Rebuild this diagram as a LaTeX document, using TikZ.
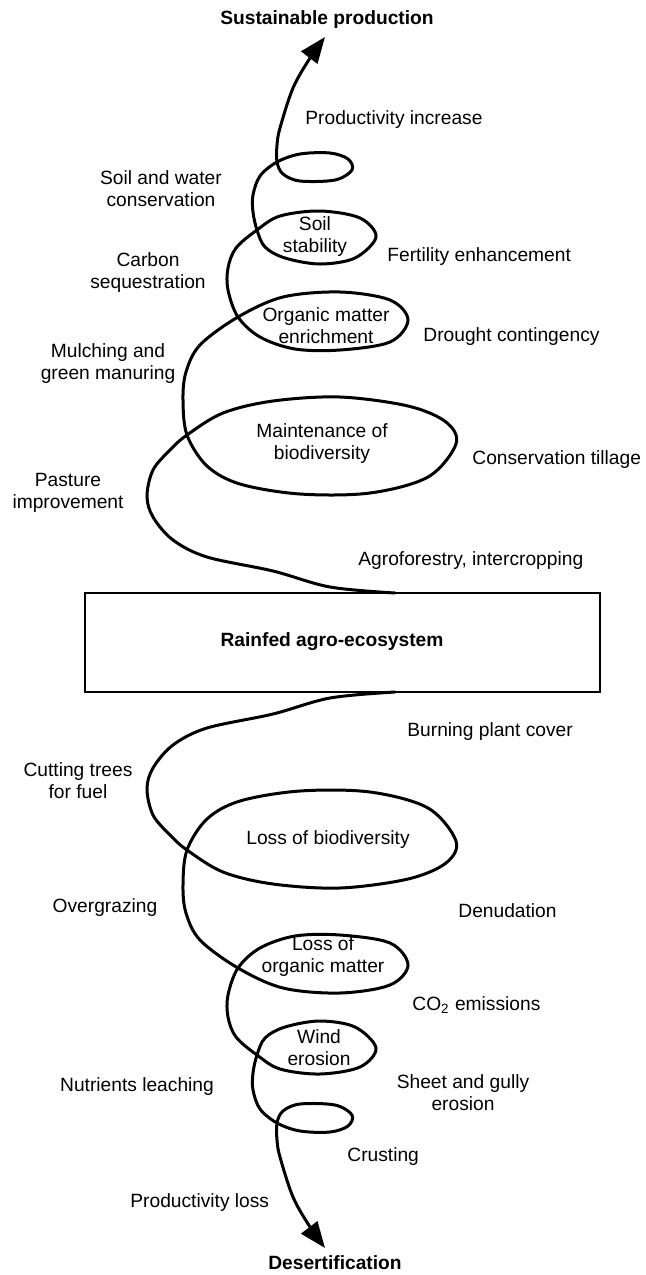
\documentclass[tikz,border=0pt]{standalone}
\usepackage{fontspec}
\setmainfont{Liberation Sans}
\usetikzlibrary{arrows.meta,positioning}

\begin{document}
\begin{tikzpicture}[x=0.5pt, y=-0.5pt,
  lbl/.style={font=\fontsize{9.6}{11}\selectfont, align=center, inner sep=0pt},
  ttl/.style={lbl, font=\fontsize{9.6}{11}\selectfont\bfseries},
  box/.style={draw, line width=1pt, minimum width=257.5pt, minimum height=49.5pt, inner sep=0pt},
  coil/.style={line width=1.5pt, line cap=round, -{Triangle[length=13pt,width=10pt]}}]
\useasboundingbox (0,0) rectangle (645,1275);
\node[box] (eco) at (342,642.5) {};
\node[ttl] (ecot) at (332,642) {Rainfed agro-ecosystem};
% upper coil, the lower one is its mirror image about the box
\foreach \s in {1,-1}
  \draw[coil, shift={(0,642.5)}, yscale=\s, shift={(0,-642.5)}]
    plot[smooth, tension=0.55] coordinates {
      (395,593) (330,587) (273,571) (207,557) (173,540) (153,517) (147,496)
      (153,470) (170,450) (187,435) (223,413) (273,401) (340,397) (408,406)
      (446,422) (456,444) (428,477) (370,493) (300,494) (240,484) (207,466)
      (187,435) (183,400) (186,372) (200,345) (238,317) (283,297) (340,292)
      (390,300) (408,320) (390,342) (340,350) (295,349) (260,337) (238,317)
      (228,290) (228,268) (236,248) (257,230) (280,216) (320,211) (360,218)
      (376,237) (355,258) (320,264) (285,258) (265,247) (257,230) (253,212)
      (253,195) (260,176) (277,162) (300,154) (330,153) (348,159) (352,170)
      (335,180) (300,181) (283,174) (277,162) (277,145) (280,128) (293,88)
      (310,58) (325,37)};
% upper half
\node[ttl] (sust) at (327,20) {Sustainable production};
\node[lbl, anchor=west] (prodinc) at (305,120) {Productivity increase};
\node[lbl] (soilwat) at (161,189) {Soil and water\\conservation};
\node[lbl] (soilstab) at (315,237) {Soil\\stability};
\node[lbl, anchor=west] (fert) at (387,257) {Fertility enhancement};
\node[lbl] (carbon) at (148,273) {Carbon\\sequestration};
\node[lbl] (orgmat) at (326,326) {Organic matter\\enrichment};
\node[lbl, anchor=west] (drought) at (423,337) {Drought contingency};
\node[lbl] (mulch) at (108,364) {Mulching and\\green manuring};
\node[lbl] (biodiv) at (322,444) {Maintenance of\\biodiversity};
\node[lbl, anchor=west] (tillage) at (472,460) {Conservation tillage};
\node[lbl] (pasture) at (68,493) {Pasture\\improvement};
\node[lbl, anchor=west] (agrof) at (358,561) {Agroforestry, intercropping};
% lower half
\node[lbl, anchor=west] (burn) at (407,732) {Burning plant cover};
\node[lbl] (trees) at (78,781) {Cutting trees\\for fuel};
\node[lbl] (lossbio) at (328,840) {Loss of biodiversity};
\node[lbl] (overgr) at (105,908) {Overgrazing};
\node[lbl, anchor=west] (denud) at (458,911) {Denudation};
\node[lbl] (lossorg) at (323,957) {Loss of\\organic matter};
\node[lbl, anchor=west] (co2) at (412,1005) {CO\textsubscript{2} emissions};
\node[lbl] (wind) at (319,1048) {Wind\\erosion};
\node[lbl] (nutr) at (137,1087) {Nutrients leaching};
\node[lbl] (sheet) at (463,1093) {Sheet and gully\\erosion};
\node[lbl, anchor=west] (crust) at (347,1157) {Crusting};
\node[lbl, anchor=west] (prodloss) at (130,1203) {Productivity loss};
\node[ttl] (desert) at (335,1263) {Desertification};
\end{tikzpicture}
\end{document}
